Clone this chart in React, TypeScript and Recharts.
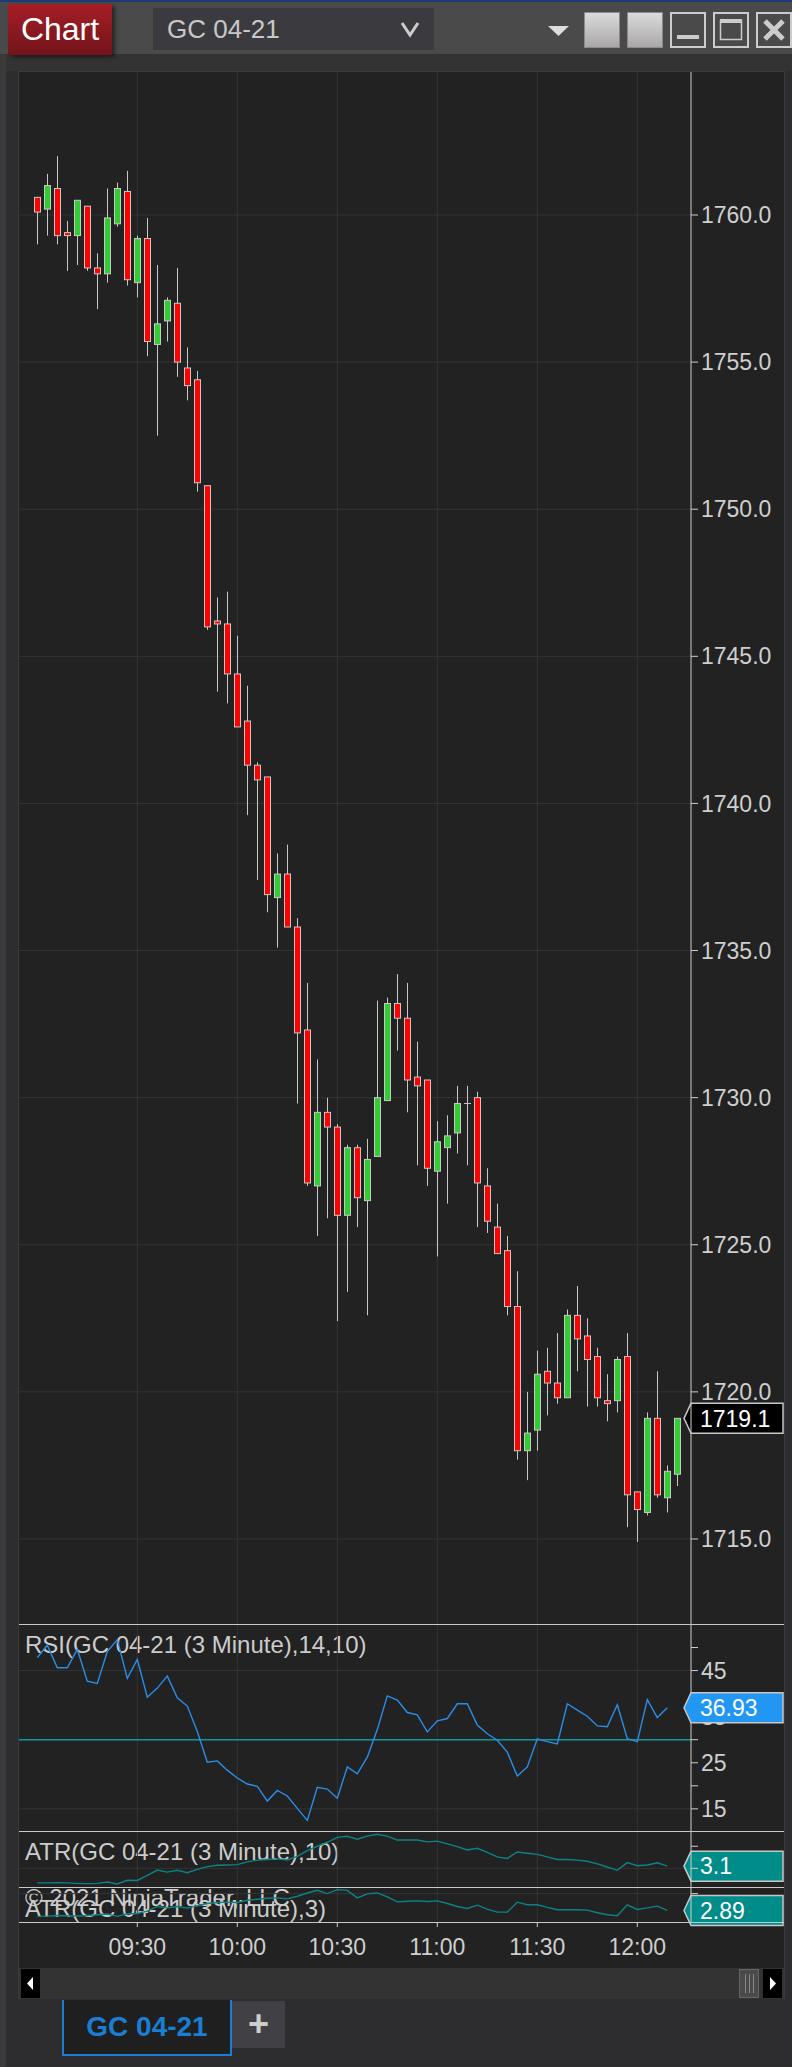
import React from 'react';
import {
    ComposedChart,
    Bar,
    Line,
    XAxis,
    YAxis,
    CartesianGrid,
    ReferenceLine,
} from 'recharts';

const FONT = '"Liberation Sans", Arial, sans-serif';

// GC 04-21, 3 minute bars from 09:00 to 12:12
const opens = [
    1760.6, 1760.2, 1760.9, 1759.4, 1759.3, 1760.3, 1758.2, 1758.0, 1759.7, 1760.8,
    1757.7, 1759.2, 1755.6, 1756.4, 1757.0, 1754.8, 1754.4, 1750.8, 1746.2, 1746.1,
    1744.4, 1742.8, 1741.3, 1740.9, 1736.8, 1737.6, 1735.8, 1732.3, 1727.0, 1729.5,
    1729.0, 1726.0, 1728.3, 1726.5, 1728.0, 1729.9, 1733.2, 1732.7, 1730.7, 1730.6,
    1727.5, 1728.3, 1728.8, 1729.8, 1730.0, 1727.0, 1725.6, 1724.8, 1722.9, 1718.0,
    1718.7, 1720.7, 1720.3, 1719.8, 1722.6, 1721.9, 1721.2, 1719.7, 1719.7, 1721.2,
    1716.6, 1715.9, 1719.1, 1716.4, 1717.2,
];
const highs = [
    1760.6, 1761.4, 1762.0, 1759.8, 1760.5, 1760.3, 1758.7, 1760.9, 1761.1, 1761.5,
    1759.3, 1759.9, 1758.3, 1757.2, 1758.2, 1755.5, 1754.7, 1750.8, 1747.0, 1747.2,
    1745.7, 1744.0, 1741.4, 1740.9, 1738.3, 1738.6, 1736.1, 1733.9, 1731.3, 1730.0,
    1729.1, 1728.4, 1728.4, 1728.6, 1733.3, 1733.4, 1734.2, 1733.9, 1731.9, 1730.6,
    1729.2, 1729.4, 1730.4, 1730.4, 1730.2, 1727.6, 1726.4, 1725.3, 1724.1, 1720.0,
    1721.4, 1721.5, 1722.0, 1722.8, 1723.6, 1722.5, 1721.5, 1720.6, 1721.2, 1722.0,
    1716.6, 1719.3, 1720.7, 1717.5, 1719.1,
];
const lows = [
    1759.0, 1759.3, 1759.0, 1758.1, 1758.3, 1758.1, 1756.8, 1757.7, 1759.6, 1757.6,
    1757.2, 1755.2, 1752.5, 1755.7, 1754.5, 1753.7, 1750.6, 1745.9, 1743.8, 1743.4,
    1742.6, 1739.6, 1737.4, 1736.3, 1735.1, 1735.8, 1729.8, 1727.0, 1725.3, 1725.9,
    1722.4, 1723.4, 1725.6, 1722.6, 1728.0, 1729.9, 1731.6, 1729.5, 1727.7, 1727.0,
    1724.6, 1726.4, 1728.1, 1727.7, 1725.6, 1725.4, 1724.7, 1722.6, 1717.7, 1717.0,
    1718.0, 1719.2, 1719.6, 1719.8, 1720.7, 1719.5, 1719.5, 1719.0, 1719.3, 1715.4,
    1714.9, 1715.8, 1716.4, 1715.9, 1716.8,
];
const closes = [
    1760.1, 1761.0, 1759.3, 1759.3, 1760.5, 1758.2, 1758.0, 1759.9, 1760.9, 1757.8,
    1759.2, 1755.7, 1756.3, 1757.1, 1755.0, 1754.2, 1750.9, 1746.0, 1746.1, 1744.4,
    1742.6, 1741.3, 1740.8, 1736.9, 1737.6, 1735.8, 1732.2, 1727.1, 1729.5, 1729.0,
    1726.0, 1728.3, 1726.6, 1727.9, 1730.0, 1733.2, 1732.7, 1730.6, 1730.4, 1727.6,
    1728.5, 1728.7, 1729.8, 1729.8, 1727.1, 1725.8, 1724.7, 1722.9, 1718.0, 1718.6,
    1720.6, 1720.3, 1719.8, 1722.6, 1721.8, 1721.1, 1719.8, 1719.6, 1721.1, 1716.5,
    1716.0, 1719.1, 1716.5, 1717.3, 1719.1,
];

// indicators are plotted on closed bars only (last bar still open)
const rsiValues = [
    47.8, 50.5, 45.6, 45.6, 49.6, 42.7, 42.2, 49.1, 51.7, 43.3,
    47.4, 39.2, 41.2, 43.8, 39.1, 37.3, 31.8, 25.1, 25.4, 23.4,
    21.7, 20.4, 19.9, 16.7, 19.0, 17.8, 15.1, 12.5, 19.7, 19.3,
    17.3, 24.1, 22.6, 26.2, 32.2, 39.5, 38.6, 35.9, 35.4, 31.7,
    34.1, 34.6, 37.8, 37.8, 33.2, 31.3, 29.9, 27.3, 22.1, 24.1,
    30.2, 29.6, 29.1, 37.8, 36.4, 35.1, 33.0, 32.8, 37.6, 30.2,
    29.6, 38.7, 34.8, 36.93,
];
const atr10Values = [
    2.34, 2.34, 2.35, 2.34, 2.32, 2.31, 2.32, 2.38, 2.29, 2.46,
    2.45, 2.68, 2.92, 2.83, 2.91, 2.80, 2.95, 3.08, 3.14, 3.15,
    3.17, 3.29, 3.37, 3.40, 3.43, 3.38, 3.54, 3.80, 4.00, 4.18,
    4.40, 4.45, 4.32, 4.46, 4.54, 4.46, 4.28, 4.28, 4.28, 4.20,
    4.23, 4.11, 3.98, 3.83, 3.91, 3.72, 3.52, 3.45, 3.74, 3.68,
    3.63, 3.52, 3.40, 3.40, 3.37, 3.32, 3.20, 3.06, 2.91, 3.26,
    3.12, 3.15, 3.25, 3.10,
];
const atr3Values = [
    2.15, 2.19, 2.27, 2.23, 2.19, 2.27, 2.36, 2.44, 2.15, 2.48,
    2.52, 2.81, 3.39, 3.22, 3.39, 3.18, 3.47, 3.76, 3.88, 3.93,
    3.88, 4.17, 4.30, 4.42, 4.46, 4.34, 4.67, 5.08, 5.41, 5.00,
    5.50, 5.41, 4.46, 4.96, 5.08, 4.59, 3.97, 4.05, 4.09, 4.01,
    4.09, 3.76, 3.39, 3.14, 3.55, 3.06, 2.69, 2.69, 3.93, 3.60,
    3.60, 3.27, 2.98, 2.98, 2.98, 2.93, 2.60, 2.36, 2.23, 3.60,
    3.02, 3.22, 3.43, 2.89,
];

const timeTicks = [10, 20, 30, 40, 50, 60];
const timeLabels = ['09:30', '10:00', '10:30', '11:00', '11:30', '12:00'];
const priceTicks = [1715, 1720, 1725, 1730, 1735, 1740, 1745, 1750, 1755, 1760];
const rsiTicks = [15, 20, 25, 30, 35, 45, 50];
const rsiLabelled = [15, 25, 35, 45];

const X_DOMAIN: [number, number] = [-1.83, 65.37];
const CHART_W = 766;
const AXIS_W = 94;
const GRID = '#343434';
const AXIS = '#cfcfcf';

const Candle = (props: any) => {
    const { x, y, width, height, payload } = props;
    const { open, close, high, low } = payload;
    const top = Math.min(y, y + height);
    const h = Math.abs(height);
    const ppu = h / (high - low);
    const cx = Math.round(x + width / 2) + 0.5;
    const bTop = top + (high - Math.max(open, close)) * ppu;
    const bBot = top + (high - Math.min(open, close)) * ppu;
    const fill = close > open ? '#32cd32' : '#ff0000';
    return (
        <g>
            <line x1={cx} x2={cx} y1={top} y2={top + h} stroke="#c8c8c8" strokeWidth={1} />
            {bBot - bTop < 1.5 && open === close ? (
                <line x1={cx - 3.5} x2={cx + 3.5} y1={bTop} y2={bTop} stroke="#c8c8c8" strokeWidth={1} />
            ) : (
                <rect
                    x={cx - 3}
                    y={bTop}
                    width={6}
                    height={Math.max(bBot - bTop, 1.5)}
                    fill={fill}
                    stroke="#c8c8c8"
                    strokeWidth={1}
                />
            )}
        </g>
    );
};

// value marker drawn on the right price axis, ax = axis line x
const Tag = ({ ax, y, text, fill }: any) => {
    const pts = `${ax - 7},${y} ${ax},${y - 15} ${ax + 92},${y - 15} ${ax + 92},${y + 15} ${ax},${y + 15}`;
    return (
        <g>
            <polygon points={pts} fill={fill} stroke="#c8c8c8" strokeWidth={1.5} />
            <text x={ax + 9} y={y} dy="0.36em" fill="#ffffff" fontSize={23} fontFamily={FONT}>
                {text}
            </text>
        </g>
    );
};

const ValueTag = ({ viewBox, text, fill }: any) => (
    <Tag ax={viewBox.x + viewBox.width} y={viewBox.y} text={text} fill={fill} />
);

const rsiLast = rsiValues[rsiValues.length - 1];

// RSI axis ticks; the last value tag is drawn as the final tick so it covers "35"
const RsiTick = (props: any) => {
    const { x, y, payload } = props;
    const v = payload.value;
    if (v === rsiLast) {
        return <Tag ax={x - 10} y={y} text={rsiLast.toFixed(2)} fill="#2196f3" />;
    }
    if (!rsiLabelled.includes(v)) return null;
    return (
        <text x={x} y={y} dy="0.355em" fill={AXIS} fontSize={23} fontFamily={FONT}>
            {v}
        </text>
    );
};

const yTick = { fill: AXIS, fontSize: 23, fontFamily: FONT };

function abs(left: number, top: number, width: number, height: number, bg: string): React.CSSProperties {
    return { position: 'absolute', left, top, width, height, background: bg };
}

export default function App() {
    const candles = opens.map((o, i) => ({
        i,
        open: o,
        high: highs[i],
        low: lows[i],
        close: closes[i],
        range: [lows[i], highs[i]],
    }));
    const indicators = rsiValues.map((r, i) => ({
        i,
        rsi: r,
        atr10: atr10Values[i],
        atr3: atr3Values[i],
    }));
    const last = closes[closes.length - 1];

    const label = (text: string, left: number, top: number, size = 24) => (
        <div
            style={{
                position: 'absolute',
                left,
                top,
                fontSize: size,
                lineHeight: 1,
                color: '#cccccc',
                whiteSpace: 'nowrap',
                fontFamily: FONT,
            }}
        >
            {text}
        </div>
    );

    return (
        <div
            style={{
                position: 'absolute',
                left: 0,
                top: 0,
                width: 792,
                height: 2067,
                background: '#2d2d2f',
                fontFamily: FONT,
                overflow: 'hidden',
            }}
        >
            {/* window header */}
            <div style={abs(0, 0, 792, 54, '#4a4a4a')} />
            <div style={abs(0, 0, 792, 2, '#1d3a74')} />
            <div style={abs(0, 54, 792, 17, '#333333')} />
            <div style={abs(0, 54, 6, 2013, '#3a3a3a')} />
            <div
                style={{
                    ...abs(8, 4, 104, 51, ''),
                    background: 'linear-gradient(#a61e26, #72141a)',
                    boxShadow: '3px 2px 4px rgba(0,0,0,0.5)',
                    color: '#fff',
                    fontSize: 32,
                    lineHeight: '51px',
                    textAlign: 'center',
                }}
            >
                Chart
            </div>
            <div
                style={{
                    ...abs(153, 8, 281, 42, '#3b3b3f'),
                    color: '#c8c8c8',
                    fontSize: 26,
                    lineHeight: '42px',
                    paddingLeft: 14,
                    boxSizing: 'border-box',
                }}
            >
                GC 04-21
            </div>
            <svg style={{ position: 'absolute', left: 0, top: 0 }} width={792} height={60}>
                <polyline points="402,23 410,35 418,23" fill="none" stroke="#cccccc" strokeWidth={3} />
                <polygon points="548,26 569,26 558.5,36" fill="#dddddd" />
                <defs>
                    <linearGradient id="btn" x1="0" y1="0" x2="0" y2="1">
                        <stop offset="0" stopColor="#dcdcdc" />
                        <stop offset="1" stopColor="#a9a6a8" />
                    </linearGradient>
                </defs>
                <rect x={584.5} y={12.5} width={35} height={35} fill="url(#btn)" stroke="#8a8a8a" />
                <rect x={627.5} y={12.5} width={35} height={35} fill="url(#btn)" stroke="#8a8a8a" />
                <rect x={671} y={13} width={34} height={34} fill="none" stroke="#cccccc" strokeWidth={2} />
                <rect x={677} y={35} width={22} height={4} fill="#cccccc" />
                <rect x={714} y={13} width={34} height={34} fill="none" stroke="#cccccc" strokeWidth={2} />
                <rect x={720.5} y={20.5} width={21} height={19} fill="none" stroke="#cccccc" strokeWidth={1.5} />
                <rect x={720} y={19} width={22} height={4} fill="#cccccc" />
                <rect x={757} y={13} width={34} height={34} fill="none" stroke="#cccccc" strokeWidth={2} />
                <path d="M765,21 L783,39 M783,21 L765,39" stroke="#cccccc" strokeWidth={5} />
            </svg>

            {/* chart frame */}
            <div style={{ ...abs(18, 71, 767, 1928, '#222222'), border: '1px solid #3c3c3c', boxSizing: 'border-box' }} />

            {/* panel titles, drawn under the series */}
            {label('RSI(GC 04-21 (3 Minute),14,10)', 25, 1633)}
            {label('ATR(GC 04-21 (3 Minute),10)', 25, 1840)}
            {label('© 2021 NinjaTrader, LLC', 25, 1886)}
            {label('ATR(GC 04-21 (3 Minute),3)', 25, 1897)}

            {/* price panel */}
            <div style={{ position: 'absolute', left: 19, top: 72 }}>
                <ComposedChart width={CHART_W} height={1552} data={candles} margin={{ top: 0, right: 0, left: 0, bottom: 0 }}>
                    <CartesianGrid stroke={GRID} horizontalValues={priceTicks} verticalValues={timeTicks} />
                    <XAxis type="number" dataKey="i" domain={X_DOMAIN} ticks={timeTicks} allowDataOverflow hide />
                    <YAxis
                        orientation="right"
                        width={AXIS_W}
                        domain={[1712.11, 1764.86]}
                        ticks={priceTicks}
                        interval={0}
                        allowDataOverflow
                        tickFormatter={(v: number) => v.toFixed(1)}
                        tick={yTick}
                        tickSize={7}
                        tickMargin={3}
                        axisLine={{ stroke: AXIS }}
                        tickLine={{ stroke: AXIS }}
                    />
                    <Bar dataKey="range" barSize={7} shape={<Candle />} isAnimationActive={false} />
                    <ReferenceLine
                        y={last}
                        stroke="none"
                        label={(p: any) => <ValueTag viewBox={p.viewBox} text={last.toFixed(1)} fill="#000000" />}
                    />
                </ComposedChart>
            </div>

            {/* RSI panel */}
            <div style={{ position: 'absolute', left: 19, top: 1624 }}>
                <ComposedChart width={CHART_W} height={207} data={indicators} margin={{ top: 0, right: 0, left: 0, bottom: 0 }}>
                    <CartesianGrid stroke={GRID} horizontalValues={[15, 45]} verticalValues={timeTicks} />
                    <XAxis type="number" dataKey="i" domain={X_DOMAIN} ticks={timeTicks} allowDataOverflow hide />
                    <YAxis
                        orientation="right"
                        width={AXIS_W}
                        domain={[10.2, 55.1]}
                        ticks={[...rsiTicks, rsiLast]}
                        interval={0}
                        allowDataOverflow
                        tick={<RsiTick />}
                        tickSize={7}
                        tickMargin={3}
                        axisLine={{ stroke: AXIS }}
                        tickLine={{ stroke: AXIS }}
                    />
                    <ReferenceLine y={30} stroke="#13989d" strokeWidth={1.5} />
                    <Line dataKey="rsi" stroke="#2a8ee8" strokeWidth={1.4} dot={false} isAnimationActive={false} />
                </ComposedChart>
            </div>

            {/* ATR(10) panel */}
            <div style={{ position: 'absolute', left: 19, top: 1831 }}>
                <ComposedChart width={CHART_W} height={57} data={indicators} margin={{ top: 0, right: 0, left: 0, bottom: 0 }}>
                    <CartesianGrid stroke={GRID} horizontalValues={[3]} verticalValues={timeTicks} />
                    <XAxis type="number" dataKey="i" domain={X_DOMAIN} ticks={timeTicks} allowDataOverflow hide />
                    <YAxis
                        orientation="right"
                        width={AXIS_W}
                        domain={[2.11, 4.69]}
                        ticks={[3, 4]}
                        interval={0}
                        allowDataOverflow
                        tickFormatter={() => ''}
                        tickSize={7}
                        axisLine={{ stroke: AXIS }}
                        tickLine={{ stroke: AXIS }}
                    />
                    <Line dataKey="atr10" stroke="#0d8386" strokeWidth={1.4} dot={false} isAnimationActive={false} />
                    <ReferenceLine
                        y={atr10Values[atr10Values.length - 1]}
                        stroke="none"
                        label={(p: any) => (
                            <ValueTag viewBox={p.viewBox} text={atr10Values[atr10Values.length - 1].toFixed(1)} fill="#008c88" />
                        )}
                    />
                </ComposedChart>
            </div>

            {/* ATR(3) panel with time axis */}
            <div style={{ position: 'absolute', left: 19, top: 1888 }}>
                <ComposedChart
                    width={CHART_W}
                    height={79}
                    data={indicators}
                    margin={{ top: 0, right: 0, left: 0, bottom: 0 }}
                    style={{ overflow: 'visible' }}
                >
                    <CartesianGrid stroke={GRID} horizontalValues={[5]} verticalValues={timeTicks} />
                    <XAxis
                        type="number"
                        dataKey="i"
                        domain={X_DOMAIN}
                        ticks={timeTicks}
                        interval={0}
                        allowDataOverflow
                        height={45}
                        axisLine={false}
                        tickLine={{ stroke: AXIS }}
                        tickSize={5}
                        tickMargin={12}
                        tick={yTick}
                        tickFormatter={(v: number) => timeLabels[timeTicks.indexOf(v)]}
                    />
                    <YAxis
                        orientation="right"
                        width={AXIS_W}
                        domain={[1.45, 5.7]}
                        ticks={[5]}
                        interval={0}
                        allowDataOverflow
                        tickFormatter={() => ''}
                        tickSize={7}
                        axisLine={{ stroke: AXIS }}
                        tickLine={{ stroke: AXIS }}
                    />
                    <Line dataKey="atr3" stroke="#0d8386" strokeWidth={1.4} dot={false} isAnimationActive={false} />
                    <ReferenceLine
                        y={atr3Values[atr3Values.length - 1]}
                        stroke="none"
                        label={(p: any) => (
                            <ValueTag viewBox={p.viewBox} text={atr3Values[atr3Values.length - 1].toFixed(2)} fill="#008c88" />
                        )}
                    />
                </ComposedChart>
            </div>

            {/* panel separators */}
            <div style={abs(19, 1624, 765, 1, '#c8c8c8')} />
            <div style={abs(19, 1831, 765, 1, '#c8c8c8')} />
            <div style={abs(19, 1887, 765, 1, '#c8c8c8')} />
            <div style={abs(19, 1922, 765, 1, '#c8c8c8')} />

            {/* scroll bar */}
            <div style={abs(19, 1968, 765, 31, '#333333')} />
            <div style={abs(21, 1969, 19, 29, '#000000')} />
            <div style={abs(763, 1969, 19, 29, '#000000')} />
            <div style={{ ...abs(739, 1969, 20, 29, '#4a4a4a'), border: '1px solid #666', boxSizing: 'border-box' }} />
            <svg style={{ position: 'absolute', left: 0, top: 1960 }} width={792} height={40}>
                <polygon points="27,23.5 33,17 33,30" fill="#ffffff" />
                <polygon points="776,23.5 770,17 770,30" fill="#ffffff" />
                <path d="M745.5,14 V33 M749.5,14 V33 M753.5,14 V33" stroke="#888" strokeWidth={1} />
            </svg>

            {/* tabs */}
            <div
                style={{
                    ...abs(62, 2000, 170, 56, '#1f1f1f'),
                    border: '2px solid #1a7fd4',
                    borderTop: 'none',
                    boxSizing: 'border-box',
                    color: '#1a7fd4',
                    fontWeight: 'bold',
                    fontSize: 28,
                    lineHeight: '54px',
                    textAlign: 'center',
                }}
            >
                GC 04-21
            </div>
            <div
                style={{
                    ...abs(232, 2001, 53, 47, '#404045'),
                    color: '#cccccc',
                    fontWeight: 'bold',
                    fontSize: 36,
                    lineHeight: '45px',
                    textAlign: 'center',
                }}
            >
                +
            </div>
        </div>
    );
}
